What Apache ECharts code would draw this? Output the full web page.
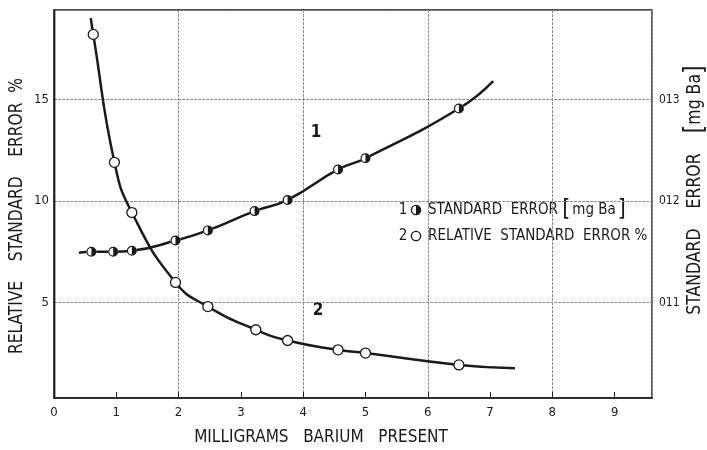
<!DOCTYPE html>
<html><head><meta charset="utf-8">
<script src="https://cdn.jsdelivr.net/npm/echarts@6/dist/echarts.min.js"></script>
<style>html,body{margin:0;padding:0;background:#fff}#c{width:707px;height:450px}</style>
</head><body><div id="c"></div>
<script>
// ---- data ----
const xMin = 0;
const xMax = 9.6;
const leftMin = 0.3;
const leftMax = 19.4;
const rightMin = 0.01006;
const rightMax = 0.01388;
// curve 1 : standard error [mg Ba] (right axis)
const seX = [0.6, 0.95, 1.25, 1.95, 2.47, 3.22, 3.75, 4.56, 5.0, 6.5];
const seY = [0.01150, 0.01150, 0.01151, 0.01161, 0.01171, 0.01190, 0.01201, 0.01231, 0.01242, 0.01291];
const seCurveStart = [0.4, 0.01149];
const seCurveEnd = [7.05, 0.01318];
// curve 2 : relative standard error % (left axis)
const rseX = [0.63, 0.97, 1.25, 1.95, 2.47, 3.24, 3.75, 4.56, 5.0, 6.5];
const rseY = [18.2, 11.9, 9.43, 5.99, 4.8, 3.66, 3.13, 2.67, 2.51, 1.93];
const rseCurveStart = [0.59, 19.0];
const rseCurveEnd = [7.4, 1.77];

const FONT = '"DejaVu Sans Condensed", "DejaVu Sans", sans-serif';
const INK = '#1a1a1a';
const GRID = '#8c8c8c';

const sePts = seX.map((x, i) => [x, seY[i]]);
const rsePts = rseX.map((x, i) => [x, rseY[i]]);
const HALF = 'path://M0,-10A10,10,0,1,1,0,10A10,10,0,1,1,0,-10Z M0,-7.6A7.6,7.6,0,1,0,0,7.6A7.6,7.6,0,1,0,0,-7.6Z M0,-7.6A7.6,7.6,0,0,1,0,7.6Z';

const chart = echarts.init(document.getElementById('c'), null, {renderer: 'canvas'});
chart.setOption({
  animation: false,
  backgroundColor: '#fff',
  textStyle: {fontFamily: FONT},
  grid: {left: 54, right: 55, top: 10, bottom: 52, show: true, borderColor: INK, borderWidth: 1.4, backgroundColor: 'transparent'},
  xAxis: [{
    type: 'value', min: xMin, max: xMax, interval: 1,
    axisLine: {show: true, lineStyle: {color: INK, width: 1.6}},
    axisTick: {show: true, inside: true, length: 6, lineStyle: {color: INK, width: 1}},
    axisLabel: {color: INK, fontSize: 13, fontFamily: FONT, margin: 8, showMaxLabel: false},
    splitLine: {show: false}
  }, {
    type: 'value', min: xMin, max: xMax, interval: 2, position: 'bottom',
    axisLine: {show: false}, axisTick: {show: false}, axisLabel: {show: false},
    splitLine: {show: true, lineStyle: {color: GRID, width: 1, type: [3, 1]}}
  }],
  yAxis: [{
    type: 'value', min: leftMin, max: leftMax, splitNumber: 4,
    axisLine: {show: true, lineStyle: {color: INK, width: 1.4}},
    axisTick: {show: false},
    axisLabel: {color: INK, fontSize: 13, fontFamily: FONT, margin: 5, showMinLabel: false, showMaxLabel: false},
    splitLine: {show: true, lineStyle: {color: GRID, width: 1, type: [3, 1]}}
  }, {
    type: 'value', min: rightMin, max: rightMax, splitNumber: 4, position: 'right',
    axisLine: {show: true, lineStyle: {color: INK, width: 1.4}},
    axisTick: {show: false},
    axisLabel: {color: INK, fontSize: 12, fontFamily: FONT, margin: 7, showMinLabel: false, showMaxLabel: false,
      formatter: v => String(Math.round(v * 1000)).padStart(3, '0')},
    splitLine: {show: false}
  }],
  series: [
    {type: 'line', z: 2, yAxisIndex: 1, data: [seCurveStart, ...sePts, seCurveEnd], symbol: 'none',
      smooth: 0.5, lineStyle: {color: INK, width: 2.5}},
    {type: 'line', z: 2, yAxisIndex: 0, data: [rseCurveStart, ...rsePts, rseCurveEnd], symbol: 'none',
      smooth: 0.5, lineStyle: {color: INK, width: 2.5}},
    {type: 'scatter', z: 5, yAxisIndex: 1, data: sePts, symbol: 'circle', symbolSize: 10,
      itemStyle: {color: '#fff', opacity: 1}},
    {type: 'scatter', z: 6, yAxisIndex: 1, data: sePts, symbol: HALF, symbolSize: 10,
      itemStyle: {color: INK, opacity: 1}},
    {type: 'scatter', z: 5, yAxisIndex: 0, data: rsePts, symbol: 'circle', symbolSize: 10,
      itemStyle: {color: '#fff', borderColor: INK, borderWidth: 1.3, opacity: 1}}
  ],
  graphic: [
    {type: 'text', x: 17, y: 216, rotation: Math.PI / 2, scaleX: 0.86,
      style: {text: 'RELATIVE    STANDARD    ERROR  %', font: '20px ' + FONT, fill: INK, align: 'center', verticalAlign: 'middle'}},
    {type: 'text', x: 695, y: 190, rotation: Math.PI / 2, scaleX: 0.92,
      style: {text: 'STANDARD    ERROR    {b|[}mg Ba{b|]}', font: '19px ' + FONT, fill: INK, align: 'center', verticalAlign: 'middle',
        rich: {b: {fontSize: 27, fontFamily: FONT, fill: INK}}}},
    {type: 'text', x: 321, y: 438,
      style: {text: 'MILLIGRAMS   BARIUM   PRESENT', font: '17px ' + FONT, fill: INK, align: 'center', verticalAlign: 'middle'}},
    {type: 'text', x: 316, y: 133, style: {text: '1', font: 'bold 17px ' + FONT, fill: INK, align: 'center', verticalAlign: 'middle'}},
    {type: 'text', x: 318, y: 311, style: {text: '2', font: 'bold 17px ' + FONT, fill: INK, align: 'center', verticalAlign: 'middle'}},
    // key
    {type: 'text', x: 403, y: 210, style: {text: '1', font: '15px ' + FONT, fill: INK, align: 'center', verticalAlign: 'middle'}},
    {type: 'circle', shape: {cx: 416, cy: 210, r: 4.6}, style: {fill: '#fff', stroke: INK, lineWidth: 1.4}},
    {type: 'sector', shape: {cx: 416, cy: 210, r: 4.6, r0: 0, startAngle: -Math.PI / 2, endAngle: Math.PI / 2}, style: {fill: INK}},
    {type: 'text', x: 428, y: 210, style: {text: 'STANDARD  ERROR {b|[}{m|mg Ba}{b|]}', font: '15px ' + FONT, fill: INK, verticalAlign: 'middle',
      rich: {b: {fontSize: 23, fontFamily: FONT, fill: INK, backgroundColor: '#fff', lineHeight: 26},
             m: {fontSize: 15, fontFamily: FONT, fill: INK, backgroundColor: '#fff', lineHeight: 26, padding: [0, 2]}}}},
    {type: 'text', x: 403, y: 236, style: {text: '2', font: '15px ' + FONT, fill: INK, align: 'center', verticalAlign: 'middle'}},
    {type: 'circle', shape: {cx: 416, cy: 236, r: 4.6}, style: {fill: '#fff', stroke: INK, lineWidth: 1.4}},
    {type: 'text', x: 428, y: 236, style: {text: 'RELATIVE  STANDARD  ERROR %', font: '15px ' + FONT, fill: INK, verticalAlign: 'middle'}}
  ]
});
</script></body></html>
